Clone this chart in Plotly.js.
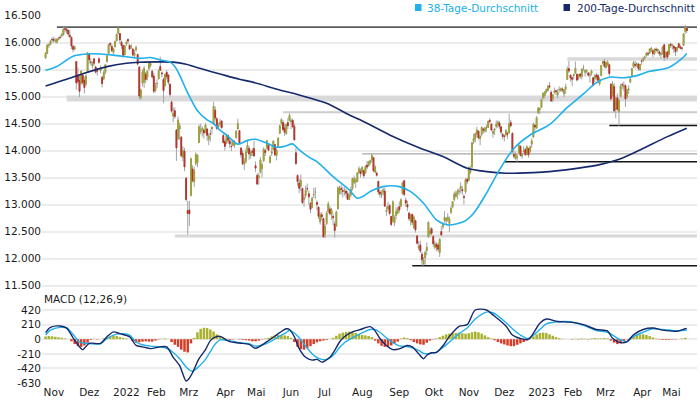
<!DOCTYPE html>
<html><head><meta charset="utf-8">
<script src="https://cdn.plot.ly/plotly-3.0.1.min.js"></script>
<style>html,body{margin:0;padding:0;background:#fff}#chart{width:700px;height:400px}</style>
</head><body><div id="chart"></div>
<script>
// Month ticks (trading-day index of first trading day in each month)
const monthTickIdx = [0,22,43,64,84,107,126,148,170,191,214,236,257,279,300,322,342,365,383];
const monthTickText = ['Nov','Dez','2022','Feb','Mrz','Apr','Mai','Jun','Jul','Aug','Sep','Okt','Nov','Dez','2023','Feb','Mrz','Apr','Mai'];

// Daily OHLC (trading days Nov 2021 - May 2023)
const open = [
15720,15800,15950,15970,16060,16060,16030,16010,16060,16100,16130,16150,16260,16250,16230,16140,16100,15930,15880,15650,15400,15300,
15250,15400,15300,15230,15450,15790,15640,15570,15700,15550,15480,15700,15480,15360,15330,15450,15650,15800,15990,15930,15820,
15930,16040,16180,16170,16010,15950,15780,15980,16060,15950,15920,15880,15760,15870,15780,15550,14980,15250,15270,15420,15360,
15520,15580,15470,15380,15120,15240,15330,15560,15440,15320,15200,15450,15400,15230,14900,14640,14740,14380,14220,14400,
14250,13880,13990,13490,12890,12900,13170,13660,13420,13760,13780,14150,14350,14390,14380,14340,14400,14210,14310,14420,14490,14750,14590,
14440,14480,14550,14280,14170,14150,14280,14180,14080,14100,14100,14240,14400,14370,14050,13950,13750,13800,13980,
14040,13910,13990,14040,13720,13540,13500,13600,13670,13810,14000,14050,14100,13780,13950,14020,14110,13910,14080,14320,14500,14520,
14420,14320,14520,14560,14530,14560,14450,13960,13540,13400,13340,13300,13090,13170,13300,13200,13020,12950,13180,13230,13040,12950,
12680,12810,12740,12450,12650,12870,12920,12820,12780,12640,12600,12920,13200,13300,13260,13250,13250,13200,13100,13180,13300,
13410,13420,13430,13600,13620,13600,13630,13590,13730,13720,13770,13830,13870,13600,13580,13430,13230,13180,13230,13250,12870,12920,12980,
12780,12690,12660,12800,12840,12960,12970,13200,13440,13080,13000,12840,12700,12820,12570,12700,12420,12200,12250,12080,11900,12010,
12150,12400,12460,12550,12410,12200,12260,12250,12110,12500,12590,12710,12700,12720,12650,12860,12960,13090,13150,13200,13240,
13300,13280,13150,13240,13470,13450,13600,13700,14170,14220,14310,14360,14220,14300,14400,14360,14420,14430,14560,14490,14320,14380,
14450,14480,14510,14440,14300,14270,14290,14320,14330,14520,14320,13930,13850,13880,13960,14080,13900,13980,14020,13930,14040,
13990,14120,14250,14470,14420,14700,14760,14800,14980,15020,15090,15120,15200,15080,14950,15080,15110,15030,15130,15110,15140,15050,
15140,15320,15520,15400,15350,15390,15440,15420,15360,15420,15370,15530,15450,15470,15440,15400,15430,15350,15330,15400,
15390,15240,15390,15620,15650,15540,15580,15590,15230,15010,15190,14760,14980,14720,15000,15220,15180,15200,15000,15130,15270,15390,15550,
15600,15590,15600,15500,15660,15670,15720,15760,15800,15810,15860,15850,15800,15880,15850,15830,15780,15800,
15960,15740,15830,15780,15970,15940,15930,15910,15870,15980,15920,15900,15950,16210,16270
];
const high = [
15830,15980,15990,16050,16100,16110,16090,16080,16110,16140,16180,16290,16290,16280,16240,16230,16110,15960,15950,15650,15540,15420,
15490,15420,15370,15420,15830,15800,15710,15650,15720,15570,15530,15740,15580,15380,15490,15610,15770,15970,16000,15970,15900,
16040,16180,16285,16170,16040,15960,15960,16040,16080,15970,15970,15900,15870,15950,15800,15560,15150,15500,15570,15460,15490,
15640,15660,15500,15440,15260,15320,15510,15740,15470,15350,15430,15490,15410,15250,14930,14800,14800,14400,14630,14520,
14270,14080,14050,13510,13070,13070,13870,13730,13700,13970,13930,14480,14500,14450,14410,14510,14420,14330,14390,14450,14900,14820,14620,
14520,14590,14560,14310,14210,14310,14300,14230,14170,14200,14200,14380,14590,14380,14050,14010,13860,14040,14190,
14080,14020,14040,14180,13800,13580,13590,13880,13780,14060,14040,14200,14140,13920,14080,14190,14120,14040,14250,14480,14600,14560,
14500,14500,14600,14690,14600,14590,14500,14050,13560,13480,13560,13310,13190,13350,13390,13260,13050,13150,13310,13320,13080,12970,
12850,12860,12760,12640,12880,13060,12970,12940,12830,12690,12890,13340,13350,13370,13330,13320,13290,13250,13240,13330,13500,
13540,13500,13600,13710,13670,13710,13650,13730,13810,13810,13830,13950,13880,13730,13620,13440,13270,13260,13310,13310,12970,13050,13010,
12790,13080,12800,12950,12960,13060,13120,13430,13460,13130,13070,12870,12830,12830,12800,12720,12430,12330,12330,12130,12030,12150,
12300,12690,12580,12580,12440,12330,12300,12300,12380,12600,12680,12880,12770,12840,12780,12970,13060,13240,13260,13290,13310,
13410,13340,13190,13490,13500,13700,13720,14150,14310,14340,14440,14380,14290,14450,14420,14440,14480,14560,14600,14510,14400,14420,
14560,14560,14550,14450,14330,14300,14400,14350,14680,14570,14340,14000,13980,13930,14120,14100,13960,14080,14050,14100,14050,
14100,14230,14520,14500,14640,14800,14800,14960,15080,15100,15150,15220,15270,15120,15050,15170,15130,15140,15190,15170,15170,15140,
15240,15560,15660,15410,15370,15430,15650,15420,15420,15440,15530,15590,15510,15510,15450,15450,15500,15360,15420,15440,
15420,15360,15590,15670,15700,15650,15680,15590,15250,15290,15250,15000,15060,14950,15240,15260,15280,15230,15150,15210,15340,15530,15660,
15660,15640,15630,15610,15690,15740,15760,15830,15830,15900,15920,15870,15890,15910,15890,15860,15820,15940,
15980,15840,15850,15970,16000,15980,15960,15910,15930,16000,15960,15930,16170,16330,16290
];
const low = [
15700,15790,15900,15950,16000,16000,15990,15980,16040,16070,16100,16130,16190,16170,16110,16080,15880,15820,15860,15130,15230,14990,
15220,15220,15060,15200,15440,15610,15580,15520,15570,15430,15390,15610,15430,15170,15310,15420,15630,15790,15920,15830,15790,
15900,16020,16150,15980,15880,15720,15760,15940,15970,15860,15880,15740,15720,15830,15580,14950,14940,15190,15160,15250,15300,
15480,15540,15330,15060,15080,15160,15320,15480,15360,14880,15190,15320,15220,15000,14700,14530,14590,13810,14200,14200,
13870,13800,13620,13060,12440,12600,13150,13410,13330,13720,13690,14140,14300,14260,14220,14320,14180,14100,14170,14310,14480,14560,14380,
14380,14440,14410,14130,14000,14120,14130,14050,13990,14080,14050,14220,14390,14130,13870,13730,13640,13760,13960,
13830,13850,13900,13880,13600,13360,13370,13580,13500,13790,13900,14020,13990,13760,13900,14000,13900,13820,14060,14310,14470,14370,
14270,14290,14400,14540,14400,14420,14190,13730,13350,13210,13250,13010,12960,13120,13240,13000,12840,12940,13120,13100,12900,12730,
12630,12700,12390,12380,12620,12840,12800,12720,12620,12390,12590,12910,13190,13180,13130,13170,13130,13090,13080,13140,13260,
13380,13310,13410,13570,13500,13560,13490,13570,13650,13700,13740,13780,13600,13590,13520,13180,13130,13120,13170,12960,12790,12880,12800,
12600,12680,12600,12730,12820,12850,12950,13190,13150,12960,12880,12700,12610,12620,12550,12480,12260,12160,12100,11870,11870,11880,
12060,12390,12420,12430,12220,12170,12140,12120,12030,12420,12540,12670,12630,12680,12490,12820,12930,13060,13130,13100,13170,
13210,13180,13000,13200,13380,13430,13570,13680,14120,14150,14250,14210,14100,14260,14320,14330,14350,14420,14500,14360,14240,14290,
14410,14420,14400,14300,14210,14170,14260,14220,14330,14430,13950,13850,13830,13790,13950,13890,13850,13960,13900,13910,13870,
13960,14050,14240,14370,14400,14680,14680,14790,14950,14970,15060,15090,15150,14900,14900,15050,15030,14970,15080,15090,15080,14990,
15050,15310,15440,15280,15200,15320,15420,15280,15310,15330,15320,15470,15370,15430,15370,15260,15390,15190,15270,15300,
15240,15200,15380,15590,15530,15520,15560,15380,14930,15000,14710,14600,14740,14460,14990,15140,15100,14810,14970,15050,15250,15380,15530,
15520,15550,15480,15480,15590,15640,15680,15740,15750,15790,15820,15730,15770,15820,15800,15750,15700,15780,
15660,15700,15690,15780,15900,15870,15810,15750,15820,15900,15880,15850,15940,16160,16180
];
const close = [
15806,15954,15959,16030,16054,16047,16041,16067,16083,16094,16148,16248,16251,16221,16160,16116,15938,15878,15917,15257,15280,15100,
15473,15263,15170,15380,15813,15687,15639,15623,15621,15454,15476,15637,15532,15240,15447,15593,15756,15964,15964,15852,15885,
16021,16152,16271,16052,15948,15768,15942,16010,16031,15883,15933,15773,15810,15912,15603,15011,15123,15460,15524,15318,15471,
15619,15613,15368,15100,15207,15242,15482,15490,15425,15114,15413,15370,15268,15042,14731,14693,14631,14052,14567,14461,
13905,14000,13698,13094,12835,12831,13848,13443,13628,13929,13917,14441,14388,14413,14326,14474,14284,14274,14306,14418,14820,14606,14415,
14446,14518,14424,14152,14079,14284,14193,14125,14076,14164,14153,14362,14502,14143,13924,13756,13794,13979,14098,
13939,13970,13971,13903,13675,13381,13535,13829,13739,14028,13964,14186,14008,13882,13982,14176,13920,14008,14231,14462,14576,14388,
14340,14485,14460,14653,14556,14446,14199,13762,13427,13304,13447,13038,13127,13266,13292,13145,12913,13118,13186,13231,13003,12784,
12813,12773,12401,12595,12843,13015,12832,12905,12757,12519,12864,13309,13308,13282,13247,13254,13210,13097,13166,13282,13484,
13479,13449,13588,13662,13574,13687,13535,13700,13695,13795,13816,13910,13627,13697,13544,13231,13194,13221,13272,12971,12893,12961,12835,
12631,13050,12761,12872,12916,12904,13088,13402,13189,13028,12956,12741,12803,12671,12767,12532,12284,12227,12140,11976,11976,12114,
12209,12671,12517,12471,12273,12272,12220,12172,12356,12438,12649,12765,12741,12767,12731,12931,13053,13196,13211,13243,13254,
13339,13257,13130,13460,13429,13689,13666,14146,14224,14313,14379,14234,14267,14431,14380,14423,14428,14540,14541,14384,14356,14397,
14490,14529,14448,14343,14261,14265,14371,14306,14498,14461,13987,13894,13943,13885,14098,13914,13941,13995,13926,14071,13924,
14069,14182,14490,14436,14610,14792,14775,14948,15058,15087,15134,15187,15182,14920,15033,15103,15094,15082,15132,15150,15126,15128,
15181,15509,15476,15346,15321,15412,15524,15308,15397,15381,15507,15535,15482,15478,15398,15400,15476,15210,15381,15365,
15305,15328,15578,15654,15560,15632,15633,15428,14960,15233,14736,14968,14768,14933,15196,15217,15211,14957,15128,15142,15329,15522,15629,
15581,15604,15520,15598,15655,15704,15730,15808,15790,15883,15896,15796,15882,15864,15872,15796,15801,15922,
15727,15815,15734,15961,15953,15955,15897,15835,15914,15917,15897,15898,16163,16275,16223
];

// Moving averages (trading-day index, value)
const ma38Idx = [0,7,17,25,34,42,50,58,65,71,77,80,83,87,90,94,100,104,108,112,119,125,130,137,143,148,153,157,163,168,178,188,193,197,201,209,219,226,234,242,249,259,265,273,281,290,300,312,323,333,341,349,358,366,374,385,393,397];
const ma38 = [15490,15560,15750,15790,15790,15770,15740,15710,15725,15680,15640,15560,15400,15130,14950,14740,14570,14500,14380,14290,14120,14190,14210,14137,14063,14080,14124,14013,13880,13796,13518,13272,13118,13160,13241,13333,13333,13241,13026,12716,12624,12685,12840,13211,13642,14044,14290,14480,14800,15050,15260,15360,15350,15390,15470,15530,15680,15800];
const ma200Idx = [0,13,25,38,50,58,71,79,87,96,108,120,127,145,157,174,188,195,213,232,246,261,273,285,302,312,331,343,356,368,385,397];
const ma200 = [15198,15322,15444,15556,15618,15637,15645,15640,15600,15520,15420,15322,15278,15124,15031,14878,14661,14568,14291,14044,13889,13674,13611,13581,13593,13611,13680,13740,13850,14013,14259,14415];

// MACD (12,26,9)
const macdIdx = [0,3,9,13,17,21,23,27,34,38,42,46,52,56,60,65,71,75,79,83,87,89,91,95,99,102,105,108,114,120,126,130,137,145,149,151,154,157,161,165,168,171,173,176,179,182,185,190,195,201,204,207,211,215,219,224,227,231,234,236,239,242,246,250,256,261,266,273,277,285,289,294,299,306,310,317,325,333,341,348,351,356,360,364,370,376,382,391,396,397];
const macd = [95,170,190,160,20,-110,-150,-60,-60,35,105,80,35,-90,-110,-135,-110,-110,-260,-380,-600,-560,-480,-280,-150,-20,30,40,-35,-55,-75,-130,-35,95,150,140,35,-135,-260,-300,-290,-330,-310,-260,-160,-40,35,105,140,180,120,10,-90,-150,-140,-90,-110,-210,-280,-230,-195,-190,-95,40,185,210,420,420,350,190,60,10,0,230,290,255,245,210,140,115,15,-50,-35,65,140,160,130,115,150,155];
const signal = [60,130,170,165,70,-40,-55,-62,-65,10,60,80,60,-40,-80,-100,-110,-130,-190,-280,-400,-440,-460,-390,-290,-180,-70,-10,-20,-50,-65,-100,-60,45,95,125,90,20,-100,-210,-265,-290,-295,-270,-210,-120,-50,20,80,140,140,100,20,-50,-95,-105,-125,-160,-205,-210,-200,-185,-120,-40,80,160,290,390,380,240,150,60,10,140,220,250,250,200,125,100,60,-10,-35,40,100,150,140,120,130,133];
const histStep = 2;
const hist = [40,45,42,35,28,20,10,0,-30,-70,-100,-110,-90,-50,-10,5,-5,0,10,25,40,50,45,30,20,10,0,-30,-50,-45,-35,-30,-35,-35,-20,-5,5,10,0,-40,-80,-110,-150,-180,-190,-60,20,100,150,165,160,140,110,70,40,15,5,-10,-5,0,-5,-10,-15,-20,-30,-30,-20,-5,10,20,40,55,60,60,55,45,20,-40,-110,-145,-150,-130,-100,-70,-45,-30,-20,-10,0,20,50,80,95,105,110,100,90,70,60,55,45,30,-20,-60,-95,-110,-105,-90,-60,-35,10,25,15,-15,-40,-60,-75,-80,-50,-20,-5,10,30,50,70,80,85,90,95,85,80,85,100,110,100,80,55,30,10,-15,-40,-60,-75,-90,-100,-100,-80,-60,-40,-20,5,40,70,90,95,90,70,50,30,15,5,0,0,-5,5,-5,10,5,-5,10,15,10,10,15,10,-20,-50,-70,-60,-30,-5,20,40,60,70,70,60,45,25,10,-5,-10,-10,-10,-5,-5,0,10,20];

// Support / resistance levels (price, start index)
const bandLow = [14910, 12390, 15667];
const bandHigh = [15020, 12445, 15729];
const bandStart = [13, 80, 323];
const blackLevel = [11865, 13793, 14465];
const blackStart = [227, 284, 349];
const topLevel = 16290, topStart = 7;
const grayLevel = [14711, 13941];
const grayStart = [147, 196];

const lens = [open.length, high.length, low.length, close.length];
const xRange = [-2.23, 403.3];
const dayIdx = close.map((_, i) => i);
const bodyHigh = close.map((c, i) => Math.max(c, open[i]));
const bodyLow = close.map((c, i) => Math.min(c, open[i]));

const LIGHT = '#20b0ea', NAVY = '#15296b';

const traces = [
  {type:'candlestick', x:dayIdx, open:open, high:high, low:low, close:close, xaxis:'x', yaxis:'y',
   increasing:{line:{color:'#a3a3a3', width:1}, fillcolor:'#a3a3a3'},
   decreasing:{line:{color:'#a3a3a3', width:1}, fillcolor:'#a3a3a3'},
   hoverinfo:'skip', showlegend:false},
  {type:'candlestick', x:dayIdx, open:open, high:bodyHigh, low:bodyLow, close:close, xaxis:'x', yaxis:'y',
   increasing:{line:{color:'#9c9e32', width:0.9}, fillcolor:'#bfc244'},
   decreasing:{line:{color:'#b82c24', width:0.9}, fillcolor:'#d6402e'},
   hoverinfo:'skip', showlegend:false},
  {type:'scatter', mode:'lines', x:ma200Idx, y:ma200, xaxis:'x', yaxis:'y',
   line:{color:NAVY, width:1.6, shape:'spline', smoothing:0.8}, hoverinfo:'skip', showlegend:false},
  {type:'scatter', mode:'lines', x:ma38Idx, y:ma38, xaxis:'x', yaxis:'y',
   line:{color:LIGHT, width:1.6, shape:'spline', smoothing:0.8}, hoverinfo:'skip', showlegend:false},
  {type:'bar', x:hist.map((_, i) => i * histStep), y:hist, xaxis:'x2', yaxis:'y2', width:1.55,
   marker:{color:hist.map(v => v >= 0 ? '#aab12f' : '#d43e28'), line:{width:0}}, hoverinfo:'skip', showlegend:false},
  {type:'scatter', mode:'lines', x:macdIdx, y:signal, xaxis:'x2', yaxis:'y2',
   line:{color:LIGHT, width:1.4, shape:'spline', smoothing:0.8}, hoverinfo:'skip', showlegend:false},
  {type:'scatter', mode:'lines', x:macdIdx, y:macd, xaxis:'x2', yaxis:'y2',
   line:{color:NAVY, width:1.4, shape:'spline', smoothing:0.8}, hoverinfo:'skip', showlegend:false}
];

const shapes = [];
bandLow.forEach((lo, i) => shapes.push({type:'rect', xref:'x', yref:'y', layer:'between',
  x0:bandStart[i], x1:xRange[1], y0:lo, y1:bandHigh[i], fillcolor:'#d9d9d9', line:{width:0}}));
grayLevel.forEach((lv, i) => shapes.push({type:'line', xref:'x', yref:'y', layer:'between',
  x0:grayStart[i], x1:xRange[1], y0:lv, y1:lv, line:{color: i === 0 ? '#cdcdcd' : '#a9a9a9', width: i === 0 ? 2 : 1.3}}));
blackLevel.forEach((lv, i) => shapes.push({type:'line', xref:'x', yref:'y', layer:'between',
  x0:blackStart[i], x1:xRange[1], y0:lv, y1:lv, line:{color:'#151515', width:1.5}}));
shapes.push({type:'line', xref:'x', yref:'y', layer:'between', x0:topStart, x1:xRange[1], y0:topLevel, y1:topLevel,
  line:{color:'#5c5c5c', width:1.8}});
// legend keys
const H = 369, W = 655;
const px2x = p => (p - 42) / W, py2y = p => 1 - (p - 15) / H;
shapes.push({type:'rect', xref:'paper', yref:'paper', x0:px2x(415), x1:px2x(421.5), y0:py2y(11), y1:py2y(4), fillcolor:LIGHT, line:{width:0}});
shapes.push({type:'rect', xref:'paper', yref:'paper', x0:px2x(563.5), x1:px2x(570), y0:py2y(11), y1:py2y(4), fillcolor:NAVY, line:{width:0}});

const annotations = [
  {xref:'paper', yref:'paper', x:px2x(424.5), y:py2y(7.5), xanchor:'left', yanchor:'middle', showarrow:false,
   text:'38-Tage-Durchschnitt', font:{color:LIGHT, size:10.5}},
  {xref:'paper', yref:'paper', x:px2x(574.5), y:py2y(7.5), xanchor:'left', yanchor:'middle', showarrow:false,
   text:'200-Tage-Durchschnitt', font:{color:NAVY, size:10.5}},
  {xref:'paper', yref:'paper', x:0, y:py2y(299), xanchor:'left', yanchor:'middle', showarrow:false,
   text:'MACD (12,26,9)', font:{color:'#1a1a1a', size:10.5}}
];

const priceTicks = [11500,12000,12500,13000,13500,14000,14500,15000,15500,16000,16500];
const macdTicks = [-630,-420,-210,0,210,420];

const layout = {
  width:700, height:400, margin:{l:42, r:3, t:15, b:16},
  paper_bgcolor:'#ffffff', plot_bgcolor:'#ffffff', separators:',.',
  font:{family:'"DejaVu Sans", Verdana, sans-serif', size:10.5, color:'#1a1a1a'},
  showlegend:false, dragmode:false, hovermode:false,
  xaxis:{domain:[0,1], anchor:'y', range:xRange, showticklabels:false, showgrid:false, zeroline:false,
    showline:false, ticks:'', rangeslider:{visible:false}},
  yaxis:{domain:[0.2547,1], range:[11417,16513], tickvals:priceTicks, tickformat:',d',
    gridcolor:'#ececec', gridwidth:2, zeroline:false, showline:false, ticks:''},
  xaxis2:{domain:[0,1], anchor:'y2', range:xRange, tickvals:monthTickIdx, ticktext:monthTickText,
    ticklabelposition:'outside right', ticklabelshift:-2, showgrid:false, zeroline:false, showline:false, ticks:''},
  yaxis2:{domain:[0,0.2114], range:[-644,477.5], tickvals:macdTicks, ticktext:macdTicks.map(String),
    gridcolor:'#ececec', gridwidth:2, zeroline:false, showline:false, ticks:''},
  shapes:shapes, annotations:annotations
};

Plotly.newPlot('chart', traces, layout, {displayModeBar:false, staticPlot:true}).then(() => {
  if (new Set(lens).size !== 1 || close.length !== 398 || macd.length !== macdIdx.length || signal.length !== macdIdx.length || ma38.length !== ma38Idx.length || ma200.length !== ma200Idx.length || hist.length !== 199) {
    throw new Error('length mismatch ' + JSON.stringify({lens, macd:macd.length, sig:signal.length, mi:macdIdx.length, m38:[ma38.length, ma38Idx.length], m200:[ma200.length, ma200Idx.length], hist:hist.length}));
  }
});
</script>
</body></html>
